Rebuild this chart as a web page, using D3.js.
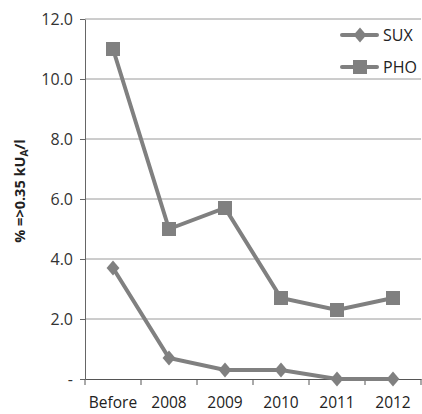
<!DOCTYPE html>
<html>
<head>
<meta charset="utf-8">
<script src="https://cdn.jsdelivr.net/npm/d3@7"></script>
<style>
  body { margin: 0; background: #fff; }
  svg { display: block; font-family: "Open Sans", sans-serif; }
</style>
</head>
<body>
<div id="chart"></div>
<script>
const width = 422,
    height = 414,
    margin = ({ top: 19, right: 1, bottom: 35, left: 85 });

// data
const years = ["Before", "2008", "2009", "2010", "2011", "2012"];
const sux = [3.7, 0.7, 0.3, 0.3, 0.0, 0.0];
const pho = [11.0, 5.0, 5.7, 2.7, 2.3, 2.7];
const yTicks = [0, 2, 4, 6, 8, 10, 12];

const grey = "#808080";

const svg = d3.select("#chart")
    .append("svg")
    .attr("width", width)
    .attr("height", height);

let x = d3.scaleBand()
    .domain(years)
    .range([margin.left, width - margin.right]);

let y = d3.scaleLinear()
    .domain([0, 12])
    .range([height - margin.bottom, margin.top]);

// gridlines
svg.append("g")
    .selectAll("line")
    .data(yTicks.filter(d => d > 0))
    .join("line")
    .attr("x1", margin.left)
    .attr("x2", width - margin.right)
    .attr("y1", d => y(d))
    .attr("y2", d => y(d))
    .attr("stroke", "#9a9a9a")
    .attr("stroke-width", 1);

// y axis
const yAxis = svg.append("g")
    .attr("transform", `translate(${margin.left},0)`)
    .call(d3.axisLeft(y)
      .tickValues(yTicks)
      .tickSize(5)
      .tickSizeOuter(0)
      .tickPadding(7)
      .tickFormat(d => d === 0 ? "-" : d3.format(".1f")(d)));
yAxis.select(".domain").attr("stroke", "#666");
yAxis.selectAll(".tick line").attr("stroke", "#666");
yAxis.selectAll(".tick text")
    .attr("font-size", 16)
    .attr("fill", "#333")
    .attr("font-family", "Open Sans, sans-serif");

// x axis
const xAxis = svg.append("g")
    .attr("transform", `translate(0,${height - margin.bottom})`)
    .call(d3.axisBottom(x).tickSize(0).tickPadding(18));
xAxis.select(".domain").attr("stroke", "#555");
xAxis.selectAll(".tick text")
    .attr("font-size", 15.5)
    .attr("fill", "#222")
    .attr("font-family", "Open Sans, sans-serif");

// category boundary ticks
const bounds = years.map(d => x(d)).concat([x(years[years.length - 1]) + x.bandwidth()]);
svg.append("g")
    .selectAll("line")
    .data(bounds)
    .join("line")
    .attr("x1", d => d)
    .attr("x2", d => d)
    .attr("y1", height - margin.bottom)
    .attr("y2", height - margin.bottom + 6)
    .attr("stroke", "#555");

// y label
svg.append("text")
    .attr("transform", `translate(25,191) rotate(-90)`)
    .attr("text-anchor", "middle")
    .attr("font-size", 14.5)
    .attr("font-weight", "bold")
    .attr("fill", "#222")
    .call(t => {
      t.append("tspan").text("% =>0.35 kU");
      t.append("tspan").attr("font-size", 10).attr("dy", 3).text("A");
      t.append("tspan").attr("dy", -3).text("/l");
    });

const cx = (d, i) => x(years[i]) + x.bandwidth() / 2;

let line = d3.line()
    .x((d, i) => cx(d, i))
    .y(d => y(d));

svg.append("path")
    .datum(pho)
    .attr("d", line)
    .attr("fill", "none")
    .attr("stroke", grey)
    .attr("stroke-width", 4);

svg.append("path")
    .datum(sux)
    .attr("d", line)
    .attr("fill", "none")
    .attr("stroke", grey)
    .attr("stroke-width", 4);

// markers
svg.append("g")
    .selectAll("rect")
    .data(pho)
    .join("rect")
    .attr("x", (d, i) => cx(d, i) - 7)
    .attr("y", d => y(d) - 7)
    .attr("width", 14)
    .attr("height", 14)
    .attr("fill", grey);

const diamond = d3.symbol().type(d3.symbolDiamond2).size(130);
svg.append("g")
    .selectAll("path")
    .data(sux)
    .join("path")
    .attr("transform", (d, i) => `translate(${cx(d, i)},${y(d)}) scale(0.9,1.05)`)
    .attr("d", diamond)
    .attr("fill", grey);

// legend
const legend = [
  { name: "SUX", sym: "diamond", yy: 35 },
  { name: "PHO", sym: "square", yy: 67 }
];
const lg = svg.append("g");
legend.forEach(l => {
  lg.append("line")
    .attr("x1", 342).attr("x2", 377)
    .attr("y1", l.yy).attr("y2", l.yy)
    .attr("stroke", grey).attr("stroke-width", 4)
    .attr("stroke-linecap", "round");
  if (l.sym === "square") {
    lg.append("rect")
      .attr("x", 353).attr("y", l.yy - 7)
      .attr("width", 14).attr("height", 14)
      .attr("fill", grey);
  } else {
    lg.append("path")
      .attr("transform", `translate(360,${l.yy}) scale(0.9,1.05)`)
      .attr("d", diamond)
      .attr("fill", grey);
  }
  lg.append("text")
    .attr("x", 383).attr("y", l.yy + 6)
    .attr("font-size", 16)
    .attr("fill", "#222")
    .text(l.name);
});
</script>
</body>
</html>
